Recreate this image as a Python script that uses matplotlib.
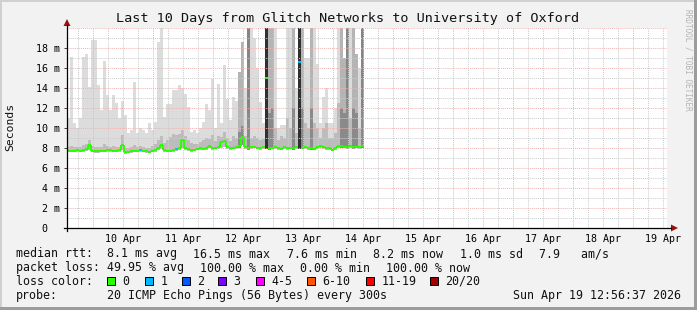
import numpy as np
import matplotlib
matplotlib.use("Agg")
import matplotlib.pyplot as plt
from matplotlib.lines import Line2D
from matplotlib.patches import Polygon, Rectangle
from matplotlib.transforms import ScaledTranslation

W, H = 697, 310
MONO = "DejaVu Sans Mono"

# time axis in days of April, one bin = 72 minutes
t_start = 9.5667
t_step = 0.05

# median rtt per bin (ms)
median = [7.75, 7.75, 7.75, 7.8, 7.75, 7.8, 7.9, 8.3, 7.75, 7.7,
          7.7, 7.75, 7.75, 7.8, 7.8, 7.75, 7.75, 7.8, 8.3, 7.6,
          7.65, 7.7, 7.75, 7.75, 7.8, 7.75, 7.7, 7.65, 7.75, 7.8,
          8.0, 8.3, 7.8, 7.75, 7.75, 7.8, 7.9, 8.0, 8.8, 8.0,
          7.9, 7.8, 7.85, 7.95, 8.0, 7.95, 8.0, 8.2, 8.0, 8.05,
          8.1, 8.6, 8.7, 8.1, 8.0, 8.05, 8.1, 8.2, 9.1, 8.1,
          8.0, 8.1, 8.15, 8.05, 8.0, 8.1, 15.0, 8.0, 8.05, 8.1,
          8.0, 7.95, 8.1, 8.0, 8.05, 8.0, 8.1, 16.6, 8.05, 8.1,
          8.0, 8.0, 7.95, 8.1, 8.2, 8.1, 8.0, 8.0, 7.85, 8.0,
          8.2, 8.2, 8.15, 8.1, 8.2, 8.1, 8.15, 8.1, 8.2]

# lowest ping per bin (ms)
smoke_lo = [7.6, 7.6, 7.6, 7.65, 7.6, 7.65, 7.7, 7.8, 7.6, 7.55,
            7.55, 7.6, 7.6, 7.65, 7.65, 7.6, 7.6, 7.65, 7.8, 7.45,
            7.5, 7.55, 7.6, 7.6, 7.65, 7.6, 7.55, 7.5, 7.6, 7.65,
            7.8, 7.9, 7.65, 7.6, 7.6, 7.65, 7.75, 7.8, 8.0, 7.85,
            7.75, 7.65, 7.7, 7.8, 7.85, 7.8, 7.85, 8.0, 7.85, 7.9,
            7.9, 8.0, 8.1, 7.95, 7.85, 7.9, 7.95, 8.0, 8.3, 7.95,
            7.85, 7.95, 8.0, 7.9, 7.85, 7.95, 7.9, 7.85, 7.9, 7.95,
            7.85, 7.8, 7.95, 7.85, 7.9, 7.85, 7.95, 7.9, 7.9, 7.95,
            7.85, 7.85, 7.8, 7.95, 8.05, 7.95, 7.85, 7.85, 7.7, 7.85,
            8.05, 8.05, 8.0, 7.95, 8.05, 7.95, 8.0, 7.95, 8.05]

# highest ping per bin (ms), clipped at the top of the graph
smoke_hi = [11.0, 17.1, 10.5, 10.0, 11.0, 17.1, 17.4, 14.1, 18.8, 18.8,
            14.3, 11.8, 16.7, 13.3, 11.8, 13.3, 12.5, 11.0, 12.7, 11.3,
            9.5, 9.8, 14.6, 9.5, 10.0, 9.8, 9.5, 10.5, 9.8, 10.6,
            18.6, 20.0, 11.1, 12.4, 12.4, 13.8, 13.8, 14.3, 14.0, 13.4,
            12.1, 9.6, 9.8, 9.5, 10.0, 10.6, 12.4, 11.8, 14.9, 10.0,
            14.4, 10.5, 16.3, 12.9, 10.8, 13.1, 12.7, 15.6, 18.6, 14.0,
            20.0, 20.0, 19.0, 16.0, 12.6, 10.5, 20.0, 20.0, 20.0, 20.0,
            10.0, 10.3, 10.3, 20.0, 20.0, 20.0, 14.0, 20.0, 20.0, 17.0,
            17.0, 20.0, 20.0, 16.4, 10.5, 13.1, 14.0, 10.5, 10.5, 12.0,
            20.0, 20.0, 17.0, 20.0, 20.0, 20.0, 17.4, 16.0, 20.0]

# top of the dense part of the smoke (ms)
smoke_mid = [8.1, 8.2, 8.1, 8.1, 8.1, 8.3, 8.4, 8.8, 8.2, 8.1,
             8.1, 8.1, 8.4, 8.2, 8.1, 8.2, 8.1, 8.1, 9.3, 8.0,
             8.0, 8.1, 8.3, 8.1, 8.2, 8.1, 8.0, 8.0, 8.2, 8.4,
             8.8, 9.2, 8.5, 8.8, 9.1, 9.4, 9.3, 9.4, 9.8, 9.2,
             8.8, 8.5, 8.4, 8.4, 8.6, 8.8, 9.0, 8.9, 9.3, 8.7,
             9.2, 9.1, 9.6, 9.0, 8.7, 9.2, 9.0, 9.6, 10.2, 9.2,
             11.5, 9.0, 9.2, 9.0, 8.8, 8.9, 8.0, 11.5, 12.0, 10.0,
             8.8, 9.2, 9.0, 11.0, 10.0, 12.0, 9.5, 8.1, 12.0, 10.5,
             10.0, 12.0, 10.5, 10.0, 9.0, 10.0, 10.5, 9.0, 9.0, 9.5,
             12.5, 12.0, 11.5, 13.0, 11.0, 12.0, 11.5, 10.0, 12.0]

# darkness of the outer smoke (0 light .. 3 black)
shade = [0, 0, 0, 0, 0, 0, 0, 0, 0, 0,
         0, 0, 0, 0, 0, 0, 0, 0, 0, 0,
         0, 0, 0, 0, 0, 0, 0, 0, 0, 0,
         0, 0, 0, 0, 0, 0, 0, 0, 0, 0,
         0, 0, 0, 0, 0, 0, 0, 0, 0, 0,
         0, 0, 0, 0, 0, 0, 0, 1, 1, 0,
         2, 0, 0, 0, 0, 0, 3, 1, 1, 0,
         0, 0, 0, 0, 0, 1, 0, 3, 1, 0,
         0, 1, 0, 0, 0, 0, 0, 0, 0, 0,
         0, 1, 1, 2, 0, 1, 1, 0, 2]

# lost pings per bin (index into loss legend)
loss = [0] * 99
loss[24] = 1
loss[36] = 1
loss[77] = 1

day_labels = ["10 Apr", "11 Apr", "12 Apr", "13 Apr", "14 Apr",
              "15 Apr", "16 Apr", "17 Apr", "18 Apr", "19 Apr"]
y_labels = ["0", "2 m", "4 m", "6 m", "8 m", "10 m", "12 m", "14 m", "16 m", "18 m"]

loss_names = ["0", "1", "2", "3", "4-5", "6-10", "11-19", "20/20"]
loss_colors = ["#26ff00", "#00b8ff", "#0059ff", "#7e00ff",
               "#ff00ff", "#ff5500", "#ff0000", "#a10000"]
shade_colors = ["#dcdcdc", "#b4b4b4", "#858585", "#303030"]


def fx(x):
    return x / W


def fy(y):
    return 1 - y / H


fig = plt.figure(figsize=(W / 100, H / 100), dpi=100, facecolor="#f2f2f2")
ax = fig.add_axes([fx(67), fy(228), 600 / W, 200 / H])
ax.set_facecolor("white")

t = t_start + t_step * np.arange(len(median))
med = np.array(median)
lo = np.array(smoke_lo)
hi = np.array(smoke_hi)
mid = np.array(smoke_mid)
sh = np.array(shade)

# smoke
ax.bar(t, hi - lo, bottom=lo, width=t_step, align="edge",
       color=[shade_colors[s] for s in shade], linewidth=0, zorder=1)
inner = np.where(sh < 3, mid - lo, 0)
ax.bar(t, inner, bottom=lo, width=t_step, align="edge",
       color=["#bcbcbc" if s == 0 else "#8a8a8a" for s in shade],
       linewidth=0, zorder=2)

# grid
for d in np.arange(9.75, 19.6, 0.25):
    if abs(d - round(d)) < 1e-6:
        ax.axvline(d, color="#eeb4b4", lw=0.7, ls=(0, (1, 1)), zorder=3)
    else:
        ax.axvline(d, color="#cccccc", lw=0.7, ls=(0, (1, 1)), zorder=3)
for v in range(1, 21):
    if v % 2 == 0:
        ax.axhline(v, color="#eeb4b4", lw=0.7, ls=(0, (1, 1)), zorder=3)
    else:
        ax.axhline(v, color="#cccccc", lw=0.7, ls=(0, (1, 1)), zorder=3)

# median line coloured by loss
ax.hlines(med, t, t + t_step, colors=[loss_colors[l] for l in loss],
          lw=1.4, zorder=5)
jump = np.abs(np.diff(med)) < 1.5
ax.vlines(t[1:][jump], med[:-1][jump], med[1:][jump], colors="#26ff00",
          lw=1.4, zorder=5)

ax.set_xlim(t_start, t_start + 10)
ax.set_ylim(0, 20)
for s in ax.spines.values():
    s.set_visible(False)

ax.set_xticks(np.arange(10.5, 20, 1))
ax.set_xticklabels(day_labels, family=MONO, fontsize=7.2)
ax.tick_params(axis="x", length=0, pad=4.5)
ax.set_yticks(range(0, 20, 2))
ax.set_yticklabels(y_labels, family=MONO, fontsize=7.2)
ax.tick_params(axis="y", length=2.5, width=0.7, color="#404040", pad=2.5)
zero = ax.get_yticklabels()[0]
zero.set_transform(zero.get_transform() + ScaledTranslation(-0.13, 0, fig.dpi_scale_trans))

# axes with arrows
fig.add_artist(Line2D([fx(67), fx(67)], [fy(231), fy(25)], color="black", lw=0.9))
fig.add_artist(Line2D([fx(64), fx(671)], [fy(228), fy(228)], color="black", lw=0.9))
fig.add_artist(Polygon([(fx(67), fy(19)), (fx(63.5), fy(26)), (fx(70.5), fy(26))],
                       closed=True, color="#9b1010", lw=0))
fig.add_artist(Polygon([(fx(678), fy(228)), (fx(671), fy(224.5)), (fx(671), fy(231.5))],
                       closed=True, color="#9b1010", lw=0))

# texts
fig.text(fx(348), fy(18.5), "Last 10 Days from Glitch Networks to University of Oxford",
         family=MONO, fontsize=9.7, ha="center", va="center", color="#111111")
fig.text(fx(10), fy(127), "Seconds", family=MONO, fontsize=8.2, rotation=90,
         ha="center", va="center", color="#111111")
fig.text(fx(688), fy(60), "RRDTOOL / TOBI OETIKER", family=MONO, fontsize=5.6,
         rotation=270, ha="center", va="center", color="#b4b4b4")

line1 = [(16, "median rtt:  8.1 ms avg"), (193, "16.5 ms max"), (287, "7.6 ms min"),
         (373, "8.2 ms now"), (460, "1.0 ms sd"), (539, "7.9   am/s")]
line2 = [(16, "packet loss: 49.95 % avg"), (200, "100.00 % max"),
         (300, "0.00 % min"), (386, "100.00 % now")]
for x, s in line1:
    fig.text(fx(x), fy(254), s, family=MONO, fontsize=8.4, va="center", color="#111111")
for x, s in line2:
    fig.text(fx(x), fy(268), s, family=MONO, fontsize=8.4, va="center", color="#111111")

fig.text(fx(16), fy(281.5), "loss color:", family=MONO, fontsize=8.4, va="center",
         color="#111111")
box_x = [107.3, 145, 181.7, 218.3, 256, 307.3, 366, 430]
for x, name, c in zip(box_x, loss_names, loss_colors):
    fig.add_artist(Rectangle((fx(x), fy(284.5)), 8 / W, 8 / H, facecolor=c,
                             edgecolor="black", lw=0.7))
    fig.text(fx(x + 15.4), fy(281.5), name, family=MONO, fontsize=8.4, va="center",
             color="#111111")

fig.text(fx(16), fy(295.5), "probe:", family=MONO, fontsize=8.4, va="center", color="#111111")
fig.text(fx(107.3), fy(295.5), "20 ICMP Echo Pings (56 Bytes) every 300s", family=MONO,
         fontsize=8.4, va="center", color="#111111")
fig.text(fx(681), fy(295.5), "Sun Apr 19 12:56:37 2026", family=MONO, fontsize=8.4,
         ha="right", va="center", color="#111111")

# 3d frame
fig.add_artist(Rectangle((0, fy(2)), 1, 2 / H, color="#d0d0d0", lw=0))
fig.add_artist(Rectangle((0, 0), 2 / W, 1, color="#d0d0d0", lw=0))
fig.add_artist(Rectangle((fx(694), 0), 3 / W, 1, color="#9c9c9c", lw=0))
fig.add_artist(Rectangle((0, 0), 1, 3 / H, color="#9c9c9c", lw=0))

fig.savefig("out.png", dpi=100, facecolor=fig.get_facecolor())
